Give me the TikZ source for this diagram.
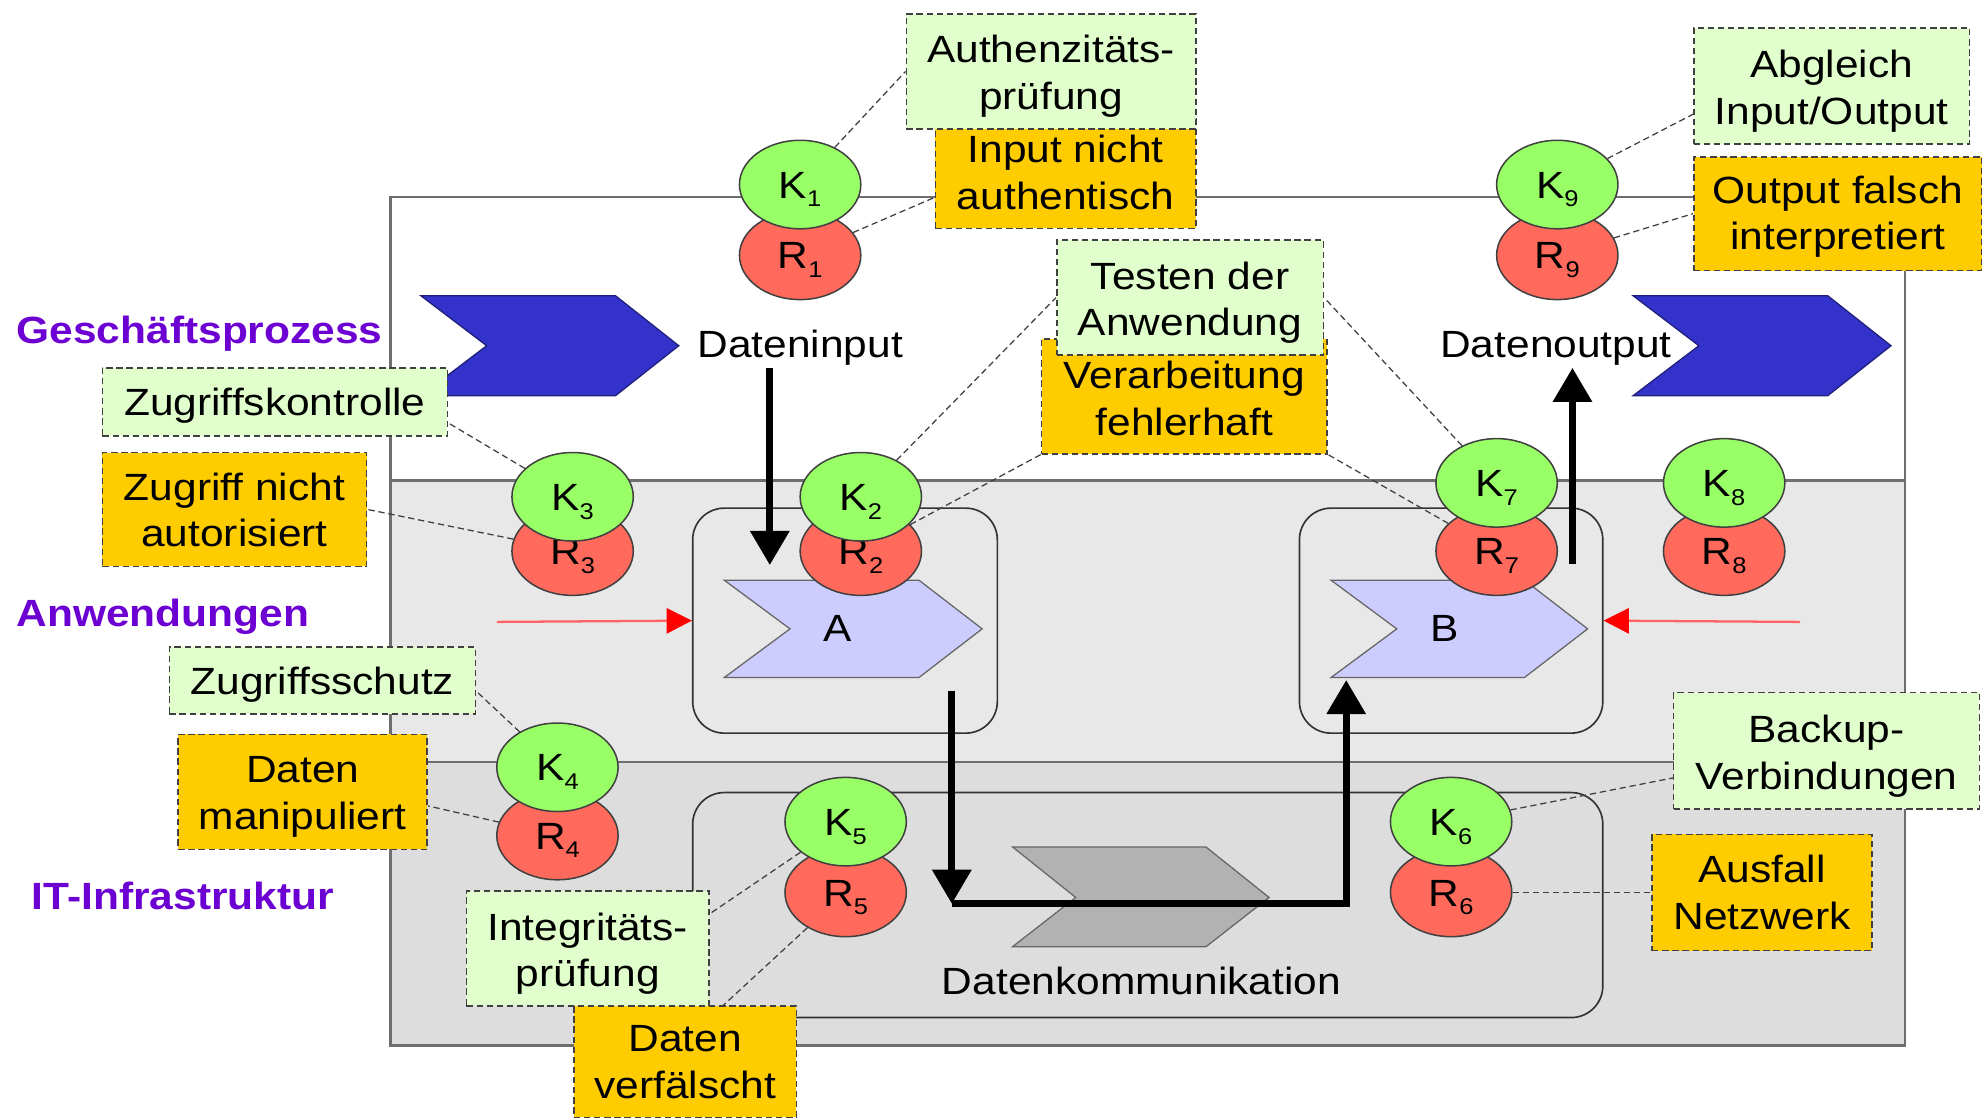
\documentclass[tikz,border=0pt]{standalone}
\usepackage{fontspec}
\setmainfont{Liberation Sans}[FakeStretch=1.12]
\usetikzlibrary{shapes.geometric,arrows.meta,calc}

\definecolor{kgreen}{RGB}{153,255,102}
\definecolor{rred}{RGB}{255,106,92}
\definecolor{boxgreen}{RGB}{224,255,204}
\definecolor{boxorange}{RGB}{255,204,0}
\definecolor{procblue}{RGB}{51,51,204}
\definecolor{steplav}{RGB}{204,204,255}
\definecolor{commgray}{RGB}{178,178,178}
\definecolor{layerpurple}{RGB}{108,0,210}
\definecolor{bandmid}{RGB}{232,232,232}
\definecolor{bandlow}{RGB}{221,221,221}
\definecolor{framegray}{RGB}{110,110,110}
\definecolor{arrowred}{RGB}{255,0,0}
\definecolor{linered}{RGB}{255,100,100}

% letter with lowered index, as in K1 / R1
\newcommand\idx[2]{#1\raisebox{-7pt}{\fontsize{18}{18}\selectfont #2}}

\begin{document}
\begin{tikzpicture}[x=1pt,y=-1pt,
  every node/.style={font=\fontsize{30}{37}\selectfont},
  lbl/.style={text height=21.5pt, text depth=0pt},
  ctrl/.style={ellipse, draw=black!75, line width=1.2pt, fill=kgreen,
    minimum width=96pt, minimum height=70pt, inner sep=0pt, lbl},
  risk/.style={ctrl, fill=rred},
  measure/.style={draw=black!75, dash pattern=on 5pt off 3pt, line width=1.2pt,
    fill=boxgreen, inner sep=0pt},
  threat/.style={measure, fill=boxorange},
  boxlabel/.style={align=center, inner sep=0pt},
  oneline/.style={boxlabel, lbl},
  twoline/.style={boxlabel, yshift=-4pt},
  link/.style={draw=black!75, dash pattern=on 5pt off 3pt, line width=1pt},
  flow/.style={line width=5.5pt, -{Triangle[length=27pt,width=30pt]}},
  feed/.style={linered, line width=1.8pt, -{Triangle[length=20pt,width=20pt,color=arrowred]}},
  layer/.style={font=\fontsize{30}{37}\selectfont\bfseries, text=layerpurple,
    anchor=west, inner sep=0pt, lbl},
  frame/.style={draw=framegray, line width=2pt},
  procbox/.style={draw=black!80, line width=1.3pt, rounded corners=25pt, inner sep=0pt},
  chevron/.style={draw=black!60, line width=1pt}
]
\useasboundingbox (0,0) rectangle (1568,884);

% layer bands and outer frame
\fill[bandmid] (309,380) rectangle (1507,603);
\fill[bandlow] (309,603) rectangle (1507,827);
\draw[frame] (309,156) rectangle (1507,827);
\draw[frame] (309,380) -- (1507,380);
\draw[frame] (309,603) -- (1507,603);

% layer names
\node[layer] (gp) at (13,261) {Geschäftsprozess};
\node[layer] (an) at (13,485) {Anwendungen};
\node[layer] (it) at (25,709) {IT-Infrastruktur};

% application and communication containers
\node[procbox, minimum width=241pt, minimum height=178pt] (boxA) at (668.5,491) {};
\node[procbox, minimum width=240pt, minimum height=178pt] (boxB) at (1148,491) {};
\node[procbox, minimum width=720pt, minimum height=178pt] (boxC) at (908,716) {};

% business process chevrons
\draw[chevron, fill=procblue, draw=procblue!60!black]
  (333,234) -- (487,234) -- (537,273.5) -- (487,313) -- (333,313) -- (385,273.5) -- cycle;
\draw[chevron, fill=procblue, draw=procblue!60!black]
  (1292,234) -- (1446,234) -- (1496,273.5) -- (1446,313) -- (1292,313) -- (1344,273.5) -- cycle;

% application chevrons
\draw[chevron, fill=steplav]
  (573,459) -- (727,459) -- (777,497.5) -- (727,536) -- (573,536) -- (625,497.5) -- cycle;
\draw[chevron, fill=steplav]
  (1053,459) -- (1206,459) -- (1256,497.5) -- (1206,536) -- (1053,536) -- (1105,497.5) -- cycle;
\node[lbl] (A) at (663,497) {A};
\node[lbl] (B) at (1143,497) {B};

% communication chevron
\draw[chevron, fill=commgray]
  (801,670) -- (954,670) -- (1004,710) -- (954,749) -- (801,749) -- (851,710) -- cycle;
\node[lbl] (comm) at (903,776) {Datenkommunikation};

\node[lbl] (din) at (633,272) {Dateninput};
\node[lbl] (dout) at (1231,272) {Datenoutput};

% data flow
\coordinate (inTop) at (609,291);
\coordinate (inTip) at (609,447);
\coordinate (aOut) at (753,547);
\coordinate (commL) at (753,715);
\coordinate (commR) at (1065,715);
\coordinate (bIn) at (1065,538);
\coordinate (bOut) at (1244,446);
\coordinate (outTip) at (1244,291);
\draw[flow] (inTop) -- (inTip);
\draw[flow] (aOut) -- (commL);
\draw[flow] (commL) -- (commR) -- (bIn);
\draw[flow] (bOut) -- (outTip);

% external feeds
\coordinate (feedL) at (393,492);
\coordinate (feedR) at (1424,492);
\draw[feed] (feedL) -- (boxA.west);
\draw[feed] (feedR) -- (boxB.east);

% risks and controls
\node[risk] (R1) at (633,202) {\idx{R}{1}};
\node[ctrl] (K1) at (633,146) {\idx{K}{1}};
\node[risk] (R9) at (1232,202) {\idx{R}{9}};
\node[ctrl] (K9) at (1232,146) {\idx{K}{9}};
\node[risk] (R3) at (453,436) {\idx{R}{3}};
\node[ctrl] (K3) at (453,393) {\idx{K}{3}};
\node[risk] (R2) at (681,436) {\idx{R}{2}};
\node[ctrl] (K2) at (681,393) {\idx{K}{2}};
\node[risk] (R7) at (1184,436) {\idx{R}{7}};
\node[ctrl] (K7) at (1184,382) {\idx{K}{7}};
\node[risk] (R8) at (1364,436) {\idx{R}{8}};
\node[ctrl] (K8) at (1364,382) {\idx{K}{8}};
\node[risk] (R4) at (441,661) {\idx{R}{4}};
\node[ctrl] (K4) at (441,607) {\idx{K}{4}};
\node[risk] (R5) at (669,706) {\idx{R}{5}};
\node[ctrl] (K5) at (669,650) {\idx{K}{5}};
\node[risk] (R6) at (1148,706) {\idx{R}{6}};
\node[ctrl] (K6) at (1148,650) {\idx{K}{6}};

% threat and measure boxes with their texts
\node[threat, minimum width=206pt, minimum height=88.6pt] (inp) at (843,136.4) {};
\node[boxlabel] (inp-t) at (inp) {Input nicht\\authentisch};
\node[measure, minimum width=229pt, minimum height=91pt] (auth) at (831.5,56.5) {};
\node[twoline] (auth-t) at (auth) {Authenzitäts-\\prüfung};
\node[measure, minimum width=218pt, minimum height=92pt] (abg) at (1449,68) {};
\node[twoline] (abg-t) at (abg) {Abgleich\\Input/Output};
\node[threat, minimum width=228pt, minimum height=90pt] (outf) at (1454,169) {};
\node[boxlabel, yshift=-2.5pt] (outf-t) at (outf) {Output falsch\\interpretiert};
\node[threat, minimum width=226pt, minimum height=91pt] (verarb) at (937,313.5) {};
\node[boxlabel, yshift=-1.5pt] (verarb-t) at (verarb) {Verarbeitung\\fehlerhaft};
\node[measure, minimum width=211pt, minimum height=91pt] (test) at (941.5,235.5) {};
\node[twoline] (test-t) at (test) {Testen der\\Anwendung};
\node[measure, minimum width=273pt, minimum height=54pt] (zk) at (217.5,318) {};
\node[oneline] (zk-t) at (zk) {Zugriffskontrolle};
\node[threat, minimum width=209pt, minimum height=90pt] (zna) at (185.5,403) {};
\node[boxlabel, yshift=-0.5pt] (zna-t) at (zna) {Zugriff nicht\\autorisiert};
\node[measure, minimum width=242pt, minimum height=53pt] (zs) at (255,538.5) {};
\node[oneline] (zs-t) at (zs) {Zugriffsschutz};
\node[threat, minimum width=197pt, minimum height=91pt] (dm) at (239.5,626.5) {};
\node[twoline] (dm-t) at (dm) {Daten\\manipuliert};
\node[measure, minimum width=192pt, minimum height=91pt] (integ) at (465,750.5) {};
\node[twoline] (integ-t) at (integ) {Integritäts-\\prüfung};
\node[threat, minimum width=176pt, minimum height=88pt] (dv) at (542,840) {};
\node[boxlabel, yshift=-0.5pt] (dv-t) at (dv) {Daten\\verfälscht};
\node[measure, minimum width=242pt, minimum height=92pt] (backup) at (1445,594) {};
\node[twoline] (backup-t) at (backup) {Backup-\\Verbindungen};
\node[threat, minimum width=174pt, minimum height=92pt] (ausfall) at (1394,706) {};
\node[boxlabel] (ausfall-t) at (ausfall) {Ausfall\\Netzwerk};

% dashed assignments
\draw[link] (K1) -- (auth.west);
\draw[link] (R1) -- ($(inp.north west)!0.72!(inp.south west)$);
\draw[link] (K9) -- ($(abg.north west)!0.74!(abg.south west)$);
\draw[link] (R9) -- (outf.west);
\draw[link] (K2) -- (test.west);
\draw[link] (K7) -- (test.east);
\draw[link] (R2) -- (verarb.south west);
\draw[link] (R7) -- (verarb.south east);
\draw[link] (K3) -- ($(zk.north east)!0.8!(zk.south east)$);
\draw[link] (R3) -- (zna.east);
\draw[link] (K4) -- ($(zs.north east)!0.65!(zs.south east)$);
\draw[link] (R4) -- ($(dm.north east)!0.62!(dm.south east)$);
\draw[link] (K5) -- ($(integ.north east)!0.2!(integ.south east)$);
\draw[link] (R5) -- ($(dv.north west)!0.67!(dv.north east)$);
\draw[link] (K6) -- ($(backup.north west)!0.73!(backup.south west)$);
\draw[link] (R6) -- (R6 -| ausfall.west);
\end{tikzpicture}
\end{document}
